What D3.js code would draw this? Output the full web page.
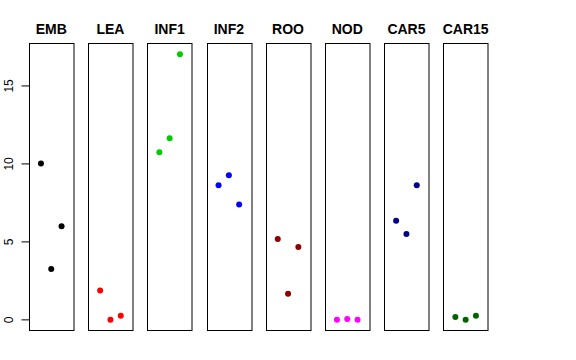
<!DOCTYPE html>
<html>
<head>
<meta charset="utf-8">
<script src="https://cdn.jsdelivr.net/npm/d3@7"></script>
<style>
  body { margin: 0; background: #fff; }
  text { font-family: "Liberation Sans", Arial, sans-serif; }
</style>
</head>
<body>
<div id="viz-container"></div>
<script>
// tissues, one panel each
let tissues = ["EMB", "LEA", "INF1", "INF2", "ROO", "NOD", "CAR5", "CAR15"];
let colors = ["#000000", "#ff0000", "#00cd00", "#0000ff", "#8b0000", "#ff00ff", "#00008b", "#006400"];
// three replicates per tissue
let rep1 = [10.03, 1.89, 10.75, 8.63, 5.18, 0.00, 6.36, 0.19];
let rep2 = [3.26, 0.00, 11.65, 9.27, 1.68, 0.06, 5.50, 0.00];
let rep3 = [6.00, 0.27, 17.04, 7.39, 4.68, 0.00, 8.63, 0.27];
let yTicks = [0, 5, 10, 15];

let W = 576, H = 360;
let plotTop = 43.5, plotBottom = 330.5;
let panelW = 44.5, step = 59.2, left0 = 29;

let viz = d3.select("#viz-container")
  .append("svg")
    .attr("width", W)
    .attr("height", H);

// R style 4% padding on y
let ymax = d3.max([].concat(rep1, rep2, rep3));
let pad = ymax * 0.04;
let y = d3.scaleLinear().domain([0 - pad, ymax + pad]).range([plotBottom, plotTop]);

tissues.forEach(function(t, i) {
  let x0 = left0 + i * step;
  // x domain 0..4 with 4% padding
  let x = d3.scaleLinear().domain([-0.16, 4.16]).range([x0, x0 + panelW]);
  let g = viz.append("g");

  g.append("rect")
    .attr("x", Math.round(x0) + 0.5)
    .attr("y", plotTop)
    .attr("width", panelW)
    .attr("height", plotBottom - plotTop)
    .attr("fill", "none")
    .attr("stroke", "#000")
    .attr("stroke-width", 1);

  g.append("text")
    .text(t)
    .attr("x", x0 + panelW / 2)
    .attr("y", 34)
    .attr("text-anchor", "middle")
    .attr("font-size", 14)
    .attr("font-weight", "bold");

  let pts = [rep1[i], rep2[i], rep3[i]];
  g.selectAll("circle").data(pts).enter()
    .append("circle")
      .attr("cx", (d, j) => x(j + 1))
      .attr("cy", d => y(d))
      .attr("r", 3)
      .attr("fill", colors[i]);
});

// y axis on the first panel
let axis = d3.axisLeft(y).tickValues(yTicks).tickSize(8).tickFormat(d3.format("d"));
let ag = viz.append("g")
  .attr("transform", "translate(" + (left0 + 0.5) + ",0)")
  .call(axis);
ag.select(".domain").remove();
ag.selectAll("line").attr("stroke", "#000");
ag.selectAll(".tick").attr("transform", null);
ag.selectAll(".tick line")
  .attr("y1", d => y(d))
  .attr("y2", d => y(d));
ag.selectAll("text")
  .attr("font-size", 12)
  .attr("fill", "#000")
  .attr("x", null)
  .attr("dy", null)
  .attr("text-anchor", "middle")
  .attr("transform", d => "translate(" + (-16.5) + "," + y(d) + ") rotate(-90)");
</script>
</body>
</html>
